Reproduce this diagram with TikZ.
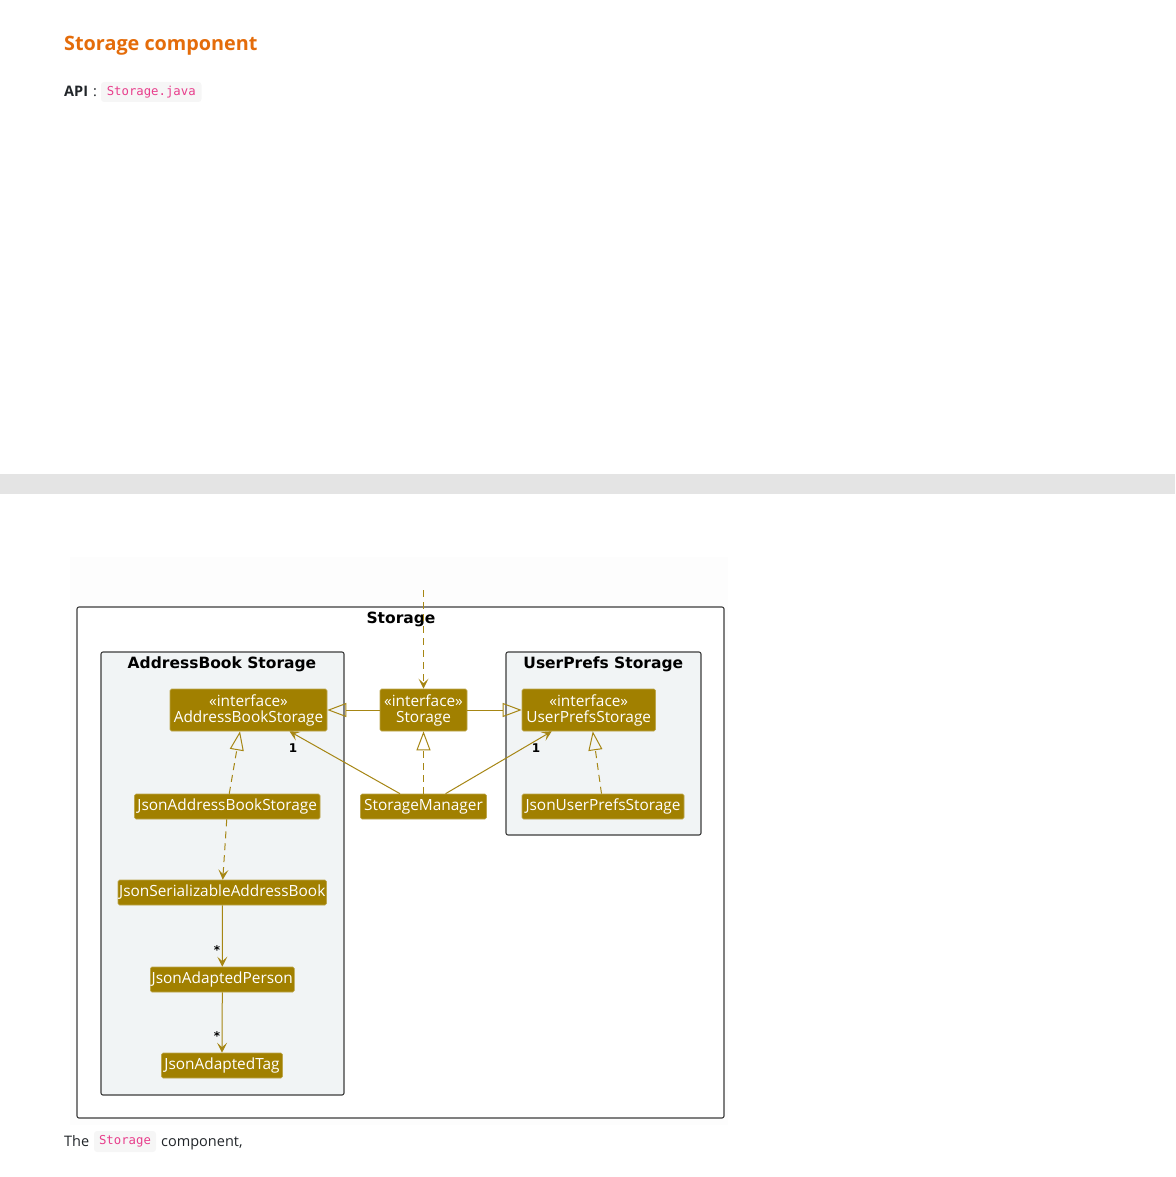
\documentclass[tikz,border=0pt]{standalone}
\usepackage{fontspec}
\setmainfont{Open Sans}
\setmonofont{DejaVu Sans Mono}
\newfontfamily\umlfont{DejaVu Sans}
\usetikzlibrary{arrows.meta}
\definecolor{gold}{RGB}{161,128,0}
\definecolor{goldline}{RGB}{166,134,20}
\definecolor{pkgfill}{RGB}{241,244,245}
\definecolor{pkgdraw}{RGB}{60,60,60}
\definecolor{headorange}{RGB}{228,108,10}
\definecolor{codepink}{RGB}{232,62,140}
\definecolor{codebg}{RGB}{246,246,246}
\definecolor{bodytext}{RGB}{33,37,41}
\definecolor{band}{RGB}{228,228,228}
\definecolor{diagbg}{RGB}{253,253,253}
\tikzset{
 cls/.style={fill=gold, draw=gold!70!white, line width=0.6pt, rounded corners=1.5pt, text=white,
   font=\fontsize{15.4}{16.5}\selectfont, inner sep=0pt, align=center},
 pkg/.style={draw=pkgdraw, line width=1.1pt, rounded corners=2pt},
 pkgtitle/.style={font=\umlfont\bfseries\fontsize{15.5}{18}\selectfont, anchor=base, text=black},
 conn/.style={draw=goldline, line width=1pt},
 dsh/.style={dash pattern=on 7pt off 5pt},
 barb/.style={-{Stealth[length=10pt,width=10pt,inset=4.5pt,fill=goldline]}},
 tri/.style={-{Triangle[open,length=19pt,width=14pt,line width=1pt]}},
 mult/.style={font=\umlfont\bfseries\fontsize{12}{13}\selectfont, text=black, inner sep=0pt},
 codebox/.style={fill=codebg, rounded corners=3pt, inner sep=0pt, text=codepink,
   font=\ttfamily\fontsize{12.3}{14}\selectfont},
 bodytxt/.style={anchor=base west, inner sep=0pt, text=bodytext, font=\fontsize{14.5}{17}\selectfont},
}
\begin{document}
\begin{tikzpicture}[x=1pt,y=-1pt]
\useasboundingbox (0,0) rectangle (1175,1177);
% page header
\node[anchor=base west, inner sep=0pt, text=headorange, font=\bfseries\fontsize{19.8}{23}\selectfont] (head) at (64,51) {Storage component};
\node[bodytxt, font=\bfseries\fontsize{14.5}{17}\selectfont] (api) at (64,97) {API};
\node[bodytxt] (colon) at (93,97) {:};
\node[codebox, minimum width=100.5pt, minimum height=20pt] (apicode) at (151.25,92) {Storage.java};
% band
\fill[band] (0,474) rectangle (1175,493.5);
% diagram background
\fill[diagbg] (70,557) rectangle (727.5,1125);
% packages
\draw[pkg, fill=white] (77,607) rectangle (724,1118);
\node[pkgtitle] (tstorage) at (401,623.5) {Storage};
\draw[pkg, fill=pkgfill] (101,652) rectangle (344,1095);
\node[pkgtitle] (tab) at (222,668) {AddressBook Storage};
\draw[pkg, fill=pkgfill] (506,652) rectangle (701,835);
\node[pkgtitle] (tup) at (603.3,668) {UserPrefs Storage};
% classes
\node[cls, minimum width=157pt, minimum height=42pt] (abs) at (248.5,710) {\rule{0pt}{13pt}«interface»\\AddressBookStorage};
\node[cls, minimum width=87pt, minimum height=42pt] (st) at (423.5,710) {\rule{0pt}{13pt}«interface»\\Storage};
\node[cls, minimum width=133.5pt, minimum height=42pt] (ups) at (588.75,710) {\rule{0pt}{13pt}«interface»\\UserPrefsStorage};
\node[cls, minimum width=185.5pt, minimum height=25pt] (jabs) at (227.25,806.5) {JsonAddressBookStorage};
\node[cls, minimum width=126pt, minimum height=25pt] (sm) at (423.5,806.5) {StorageManager};
\node[cls, minimum width=162pt, minimum height=25pt] (jups) at (603,806.5) {JsonUserPrefsStorage};
\node[cls, minimum width=208.5pt, minimum height=25pt] (jsab) at (222.25,892.5) {JsonSerializableAddressBook};
\node[cls, minimum width=144pt, minimum height=25pt] (jap) at (222.3,979.5) {JsonAdaptedPerson};
\node[cls, minimum width=121pt, minimum height=25pt] (jat) at (222,1065.5) {JsonAdaptedTag};
% connectors
\coordinate (topin) at (423.5,590);
\draw[conn,dsh,barb] (topin) -- (st.north);
\draw[conn,tri] (st.west) -- (abs.east);
\draw[conn,tri] (st.east) -- (ups.west);
\draw[conn,dsh,tri] (sm.north) -- (st.south);
\draw[conn,barb] ([xshift=-23.5pt]sm.north) -- ([xshift=41pt]abs.south);
\draw[conn,barb] ([xshift=22pt]sm.north) -- ([xshift=-37pt]ups.south);
\node[mult] (m1) at (293,748) {1};
\node[mult] (m2) at (536,748) {1};
\draw[conn,dsh,tri] ([xshift=2pt]jabs.north) -- ([xshift=-8.5pt]abs.south);
\draw[conn,dsh,tri] ([xshift=-1.5pt]jups.north) -- ([xshift=4pt]ups.south);
\draw[conn,dsh,barb] ([xshift=-0.5pt]jabs.south) -- ([xshift=0.5pt]jsab.north);
\draw[conn,barb] (jsab.south) -- (jap.north);
\draw[conn,barb] (jap.south) -- (jat.north);
\node[mult] (m3) at (217,950) {*};
\node[mult] (m4) at (217,1036) {*};
% caption
\node[bodytxt] (the) at (64,1146.5) {The};
\node[codebox, minimum width=62pt, minimum height=21pt] (capcode) at (125,1141.5) {Storage};
\node[bodytxt] (comp) at (161,1146.5) {component,};
\end{tikzpicture}
\end{document}
